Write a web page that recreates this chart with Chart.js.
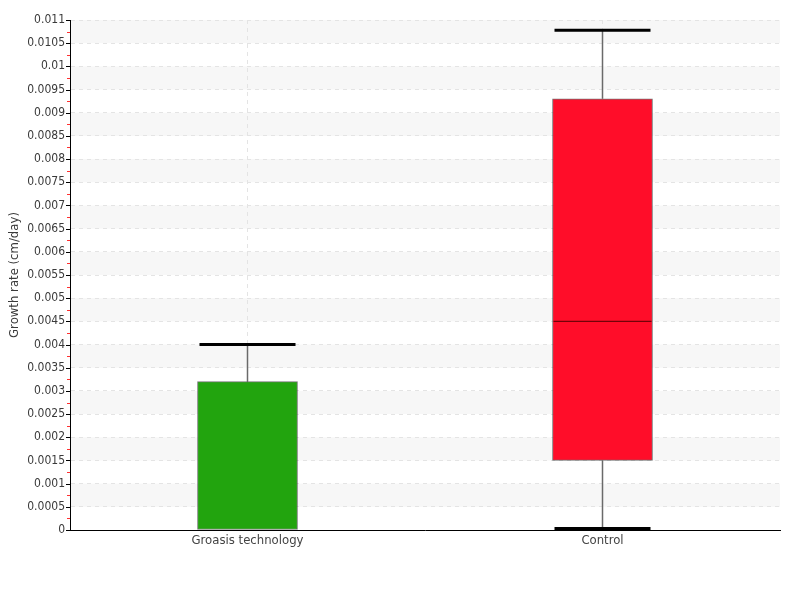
<!DOCTYPE html>
<html>
<head>
<meta charset="utf-8">
<script src="https://cdn.jsdelivr.net/npm/chart.js@4/dist/chart.umd.min.js"></script>
<style>
  html, body { margin: 0; padding: 0; background: #ffffff; }
  #wrap { width: 800px; height: 600px; }
</style>
</head>
<body>
<div id="wrap"><canvas id="c" width="800" height="600"></canvas></div>
<script>
// ---- data ----
const categories = ['Groasis technology', 'Control'];
const minValues = [0, 0.00003];
const q1Values = [0, 0.0015];
const medianValues = [0, 0.0045];
const q3Values = [0.0032, 0.0093];
const maxValues = [0.004, 0.01078];
const boxColors = ['#22a40e', '#ff0d29'];
const yTickStep = 0.0005;
const yMax = 0.011;

const FONT = "'DejaVu Sans Condensed', 'Liberation Sans Narrow', 'Roboto', sans-serif";

const boxPlugin = {
  id: 'boxExtras',
  beforeDraw(chart) {
    const ctx = chart.ctx, area = chart.chartArea;
    const y = chart.scales.y;
    if (!area) return;
    ctx.save();
    ctx.fillStyle = '#f7f7f7';
    for (let v = yTickStep; v < yMax - 1e-12; v += 2 * yTickStep) {
      const top = y.getPixelForValue(v + yTickStep);
      const bot = y.getPixelForValue(v);
      ctx.fillRect(area.left, top, area.right - area.left, bot - top);
    }
    ctx.restore();
  },
  beforeDatasetsDraw(chart) {
    const ctx = chart.ctx, area = chart.chartArea;
    const y = chart.scales.y, x = chart.scales.x;
    const meta = chart.getDatasetMeta(0);
    ctx.save();
    ctx.beginPath();
    ctx.rect(area.left, area.top - 5, area.right - area.left, area.bottom - area.top + 5);
    ctx.clip();
    categories.forEach((c, i) => {
      const bar = meta.data[i];
      const cx = x.getPixelForValue(i);
      const w = bar.width;
      const capW = w * 0.96;
      // whiskers
      ctx.strokeStyle = '#6a6a6a';
      ctx.lineWidth = 1.5;
      ctx.beginPath();
      ctx.moveTo(cx, y.getPixelForValue(q3Values[i]));
      ctx.lineTo(cx, y.getPixelForValue(maxValues[i]));
      if (minValues[i] < q1Values[i]) {
        ctx.moveTo(cx, y.getPixelForValue(q1Values[i]));
        ctx.lineTo(cx, y.getPixelForValue(minValues[i]));
      }
      ctx.stroke();
      // caps
      ctx.strokeStyle = '#000000';
      ctx.lineWidth = 3;
      ctx.beginPath();
      const caps = [maxValues[i]];
      if (minValues[i] < q1Values[i]) caps.push(minValues[i]);
      caps.forEach(v => {
        const py = y.getPixelForValue(v);
        ctx.moveTo(cx - capW / 2, py);
        ctx.lineTo(cx + capW / 2, py);
      });
      ctx.stroke();
    });
    ctx.restore();
  },
  afterDatasetsDraw(chart) {
    const ctx = chart.ctx, area = chart.chartArea;
    const y = chart.scales.y, x = chart.scales.x;
    const meta = chart.getDatasetMeta(0);
    ctx.save();
    categories.forEach((c, i) => {
      const bar = meta.data[i];
      const cx = x.getPixelForValue(i);
      const w = bar.width;
      if (medianValues[i] <= q1Values[i]) return;
      ctx.strokeStyle = 'rgba(80,0,0,0.8)';
      ctx.lineWidth = 1.2;
      ctx.beginPath();
      const my = y.getPixelForValue(medianValues[i]);
      ctx.moveTo(cx - w / 2 + 1, my);
      ctx.lineTo(cx + w / 2 - 1, my);
      ctx.stroke();
    });
    // major ticks (black) and minor ticks (red)
    ctx.lineWidth = 1;
    ctx.strokeStyle = '#000000';
    ctx.beginPath();
    for (let k = 0; k * yTickStep <= yMax + 1e-12; k++) {
      const py = Math.round(y.getPixelForValue(k * yTickStep)) + 0.5;
      ctx.moveTo(area.left - 4, py);
      ctx.lineTo(area.left, py);
    }
    ctx.stroke();
    ctx.strokeStyle = '#ff3030';
    ctx.beginPath();
    for (let k = 0; (k + 0.5) * yTickStep < yMax; k++) {
      const py = Math.round(y.getPixelForValue((k + 0.5) * yTickStep)) + 0.5;
      ctx.moveTo(area.left - 3, py);
      ctx.lineTo(area.left, py);
    }
    ctx.stroke();
    ctx.restore();
  }
};

new Chart(document.getElementById('c'), {
  type: 'bar',
  data: {
    labels: categories,
    datasets: [{
      data: categories.map((c, i) => [q1Values[i], q3Values[i]]),
      backgroundColor: boxColors,
      borderColor: 'rgba(0,0,0,0.55)',
      borderWidth: 1,
      borderSkipped: false,
      barThickness: 100
    }]
  },
  options: {
    responsive: false,
    animation: false,
    layout: { padding: { top: 20, right: 20, left: 0, bottom: 0 } },
    plugins: { legend: { display: false }, tooltip: { enabled: false } },
    scales: {
      x: {
        grid: { display: true, offset: false, color: '#e4e4e4', drawTicks: false },
        border: { display: true, color: '#000000', width: 1, dash: [4, 4] },
        ticks: { color: '#444444', padding: 3, font: { family: FONT, size: 13 } },
        afterFit(s) { s.height = 70; }
      },
      y: {
        min: 0,
        max: yMax,
        grid: { color: '#e4e4e4', drawTicks: false },
        border: { display: true, color: '#000000', width: 1, dash: [4, 4] },
        ticks: {
          stepSize: yTickStep,
          color: '#3a3a3a',
          padding: 5,
          font: { family: FONT, size: 12 },
          callback: v => String(+Number(v).toFixed(4))
        },
        title: {
          display: true,
          text: 'Growth rate (cm/day)',
          color: '#3a3a3a',
          padding: { top: 7, bottom: 0 },
          font: { family: FONT, size: 13 }
        },
        afterFit(s) { s.width = 70; }
      }
    }
  },
  plugins: [boxPlugin]
});
</script>
</body>
</html>
